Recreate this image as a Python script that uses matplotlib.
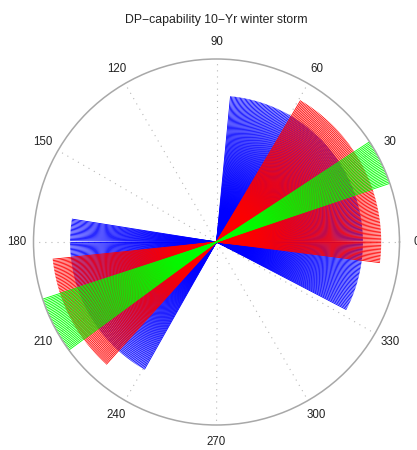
import numpy as np
import matplotlib
matplotlib.use("Agg")
import matplotlib.pyplot as plt

plt.rcParams['font.family'] = ['Liberation Sans', 'DejaVu Sans']

title = "DP\u2212capability 10\u2212Yr winter storm"
tick_angles = [0, 30, 60, 90, 120, 150, 180, 210, 240, 270, 300, 330]
tick_labels = [str(a) for a in tick_angles]

# wedges: (start deg, end deg, radius) per series
series_names = ["blue", "red", "green"]
series_colors = ["#0000ff", "#ff0000", "#00ff00"]
wedge_start = {"blue": [-27.5, 171.0], "red": [-7.2, 186.0], "green": [18.7, 198.2]}
wedge_end = {"blue": [84.5, 240.5], "red": [59.6, 228.3], "green": [33.2, 216.2]}
wedge_radius = {"blue": [0.80, 0.80], "red": [0.90, 0.90], "green": [1.0, 1.0]}

W, H = 417, 450
fig = plt.figure(figsize=(W / 100, H / 100), dpi=100)
cx, cy, R = 216.5, 242.0, 183.0
ax = fig.add_axes([(cx - R) / W, (H - cy - R) / H, 2 * R / W, 2 * R / H], projection='polar')
ax.set_ylim(0, 1.0)
ax.set_yticks([])
ax.grid(False)
ax.spines['polar'].set_color('#a8a8a8')
ax.spines['polar'].set_linewidth(1.1)
ax.set_xticks([])

# dotted radial grid
for a in tick_angles:
    ax.plot([np.deg2rad(a)] * 2, [0, 1.0], linestyle=(0, (1, 4.5)), color='#b8b8b8', lw=0.8, zorder=1)

step = 0.5
for name, col in zip(series_names, series_colors):
    for s, e, r in zip(wedge_start[name], wedge_end[name], wedge_radius[name]):
        angs = np.deg2rad(np.arange(s, e + 1e-9, step))
        for t in angs:
            ax.plot([t, t], [0, r], color=col, lw=0.6, solid_capstyle='butt', zorder=2, clip_on=False)

for a, lab in zip(tick_angles, tick_labels):
    ax.text(np.deg2rad(a), 1.094, lab, ha='center', va='center', fontsize=8.3, color='#222222', clip_on=False)

fig.text(cx / W, 1 - 19.5 / H, title, ha='center', va='center', fontsize=8.8, color='#222222')
fig.savefig("out.png", dpi=100)
